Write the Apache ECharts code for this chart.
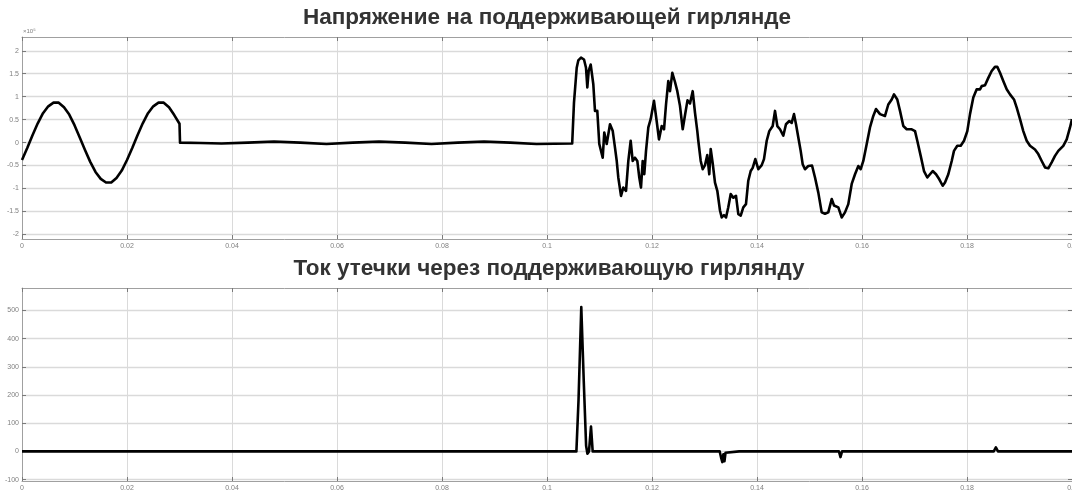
<!DOCTYPE html>
<html><head><meta charset="utf-8">
<script src="https://cdn.jsdelivr.net/npm/echarts@6/dist/echarts.min.js"></script>
<style>html,body{margin:0;padding:0;background:#fff}#c{width:1072px;height:491px}</style>
</head><body><div id="c"></div>
<script>
// ---- titles ----
const titleTop = 'Напряжение на поддерживающей гирлянде';
const titleBottom = 'Ток утечки через поддерживающую гирлянду';
const voltExponent = '×10⁵';

// ---- tick values ----
const timeTicks = [0, 0.02, 0.04, 0.06, 0.08, 0.1, 0.12, 0.14, 0.16, 0.18, 0.2];
const voltTicks = [-2, -1.5, -1, -0.5, 0, 0.5, 1, 1.5, 2];
const currTicks = [-100, 0, 100, 200, 300, 400, 500];

// ---- voltage (×1e5), [time s, value] ----
const voltSine = [
  [0.000,-0.38],[0.001,-0.12],[0.002,0.16],[0.003,0.42],[0.004,0.64],[0.005,0.79],
  [0.006,0.87],[0.007,0.87],[0.008,0.77],[0.009,0.61],[0.010,0.38],[0.011,0.11],
  [0.012,-0.16],[0.013,-0.42],[0.014,-0.64],[0.015,-0.79],[0.016,-0.87],[0.017,-0.87],
  [0.018,-0.77],[0.019,-0.61],[0.020,-0.38],[0.021,-0.12],[0.022,0.16],[0.023,0.42],
  [0.024,0.64],[0.025,0.79],[0.026,0.87],[0.027,0.87],[0.028,0.77],[0.029,0.60],[0.030,0.41]
];
const voltQuiet = [
  [0.0301,0.0],[0.034,-0.01],[0.038,-0.02],[0.043,0.0],[0.048,0.02],[0.053,0.0],
  [0.058,-0.03],[0.063,0.0],[0.068,0.02],[0.073,0.0],[0.078,-0.03],[0.083,0.0],
  [0.088,0.02],[0.093,0.0],[0.098,-0.03],[0.1048,-0.02]
];
const voltFault = [
  [0.10490,-0.02],[0.10514,0.87],[0.10566,1.63],[0.10596,1.79],[0.10648,1.85],[0.10705,1.81],
  [0.10743,1.63],[0.10768,1.20],[0.10794,1.56],[0.10832,1.70],[0.10857,1.68],[0.10882,1.27],
  [0.10914,0.69],[0.10958,0.69],[0.10996,-0.03],[0.11061,-0.33],[0.11091,0.22],[0.11137,-0.03],
  [0.11200,0.40],[0.11251,0.26],[0.11295,-0.11],[0.11328,-0.40],[0.11358,-0.76],[0.11410,-1.16],
  [0.11453,-0.98],[0.11505,-1.05],[0.11549,-0.40],[0.11594,0.04],[0.11632,-0.40],[0.11676,-0.33],
  [0.11720,-0.40],[0.11758,-0.76],[0.11790,-0.98],[0.11823,-0.40],[0.11853,-0.69],[0.11886,-0.18],
  [0.11930,0.33],[0.11975,0.51],[0.12038,0.91],[0.12090,0.46],[0.12133,0.07],[0.12185,0.36],
  [0.12229,0.29],[0.12267,0.83],[0.12310,1.34],[0.12343,1.12],[0.12387,1.52],[0.12438,1.32],
  [0.12482,1.12],[0.12533,0.80],[0.12585,0.29],[0.12629,0.60],[0.12676,0.92],[0.12724,0.85],
  [0.12775,1.12],[0.12819,0.65],[0.12863,0.25],[0.12882,0.04],[0.12928,-0.40],[0.12966,-0.58],
  [0.13010,-0.49],[0.13053,-0.27],[0.13091,-0.69],[0.13118,-0.14],[0.13156,-0.45],[0.13200,-0.87],
  [0.13244,-1.05],[0.13295,-1.48],[0.13328,-1.63],[0.13371,-1.58],[0.13410,-1.63],[0.13453,-1.41],
  [0.13499,-1.12],[0.13549,-1.20],[0.13600,-1.16],[0.13644,-1.56],[0.13690,-1.59],[0.13739,-1.41],
  [0.13790,-1.34],[0.13834,-0.83],[0.13880,-0.62],[0.13918,-0.55],[0.13968,-0.36],[0.14025,-0.58],
  [0.14090,-0.49],[0.14133,-0.36],[0.14185,0.04],[0.14234,0.25],[0.14299,0.36],[0.14343,0.69],
  [0.14387,0.36],[0.14438,0.29],[0.14501,0.15],[0.14552,0.40],[0.14615,0.47],[0.14661,0.43],
  [0.14705,0.62],[0.14743,0.40],[0.14787,0.11],[0.14832,-0.18],[0.14870,-0.47],[0.14914,-0.58],
  [0.14977,-0.51],[0.15048,-0.50],[0.15105,-0.76],[0.15168,-1.09],[0.15232,-1.52],[0.15295,-1.55],
  [0.15358,-1.52],[0.15423,-1.23],[0.15467,-1.37],[0.15549,-1.41],[0.15613,-1.63],[0.15676,-1.52],
  [0.15739,-1.34],[0.15804,-0.90],[0.15867,-0.69],[0.15930,-0.51],[0.15975,-0.58],[0.16025,-0.40],
  [0.16090,-0.03],[0.16152,0.33],[0.16215,0.58],[0.16267,0.73],[0.16343,0.62],[0.16438,0.58],
  [0.16501,0.83],[0.16566,0.94],[0.16610,1.05],[0.16672,0.94],[0.16724,0.69],[0.16787,0.36],
  [0.16851,0.29],[0.16947,0.29],[0.17010,0.25],[0.17053,0.04],[0.17118,-0.29],[0.17181,-0.62],
  [0.17244,-0.76],[0.17295,-0.69],[0.17347,-0.62],[0.17410,-0.69],[0.17472,-0.80],[0.17537,-0.94],
  [0.17581,-0.87],[0.17644,-0.69],[0.17709,-0.40],[0.17752,-0.18],[0.17815,-0.07],[0.17880,-0.07],
  [0.17943,0.04],[0.18006,0.25],[0.18057,0.62],[0.18120,0.98],[0.18185,1.16],[0.18248,1.16],
  [0.18280,1.23],[0.18343,1.25],[0.18406,1.41],[0.18470,1.56],[0.18533,1.65],[0.18577,1.65],
  [0.18629,1.52],[0.18691,1.34],[0.18756,1.16],[0.18819,1.05],[0.18895,0.94],[0.18947,0.76],
  [0.19010,0.51],[0.19072,0.25],[0.19137,0.04],[0.19200,-0.07],[0.19295,-0.15],[0.19358,-0.25],
  [0.19423,-0.40],[0.19486,-0.54],[0.19549,-0.56],[0.19613,-0.43],[0.19676,-0.29],[0.19739,-0.18],
  [0.19834,-0.07],[0.19899,0.07],[0.19962,0.33],[0.20000,0.51]
];

// ---- leakage current (A), [time s, value] ----
const currentPulse = [
  [0,0],[0.1056,0],[0.1060,180],[0.10653,512],[0.1070,250],[0.10745,20],[0.1077,-8],
  [0.1080,0],[0.10838,88],[0.1087,0],[0.1329,0],[0.1332,-25],[0.1334,-38],[0.1336,-10],
  [0.1338,-35],[0.1340,-5],[0.1342,0],[0.1366,0],[0.1368,-6],[0.1370,0],[0.1556,0],
  [0.1559,-20],[0.1562,0],[0.1851,0],[0.1855,14],[0.1859,0],[0.2,0]
];

const voltData = voltSine.concat(voltQuiet, voltFault);

const FONT = '"Liberation Sans", Arial, sans-serif';
const lblStyle = { fontFamily: FONT, fontSize: 7, color: '#808080' };
const tickStyle = { color: '#7a7a7a', width: 1 };
const gridColor = '#dadada';

function xAxisPair(gi) {
  return [
    { type: 'value', gridIndex: gi, min: 0, max: 0.2, interval: 0.02, position: 'bottom',
      axisLine: { show: true, onZero: false, lineStyle: { color: '#a0a0a0' } },
      axisTick: { show: true, inside: true, length: 4, lineStyle: tickStyle },
      axisLabel: Object.assign({ margin: 4, showMaxLabel: true, showMinLabel: true,
        formatter: v => String(+v.toFixed(2)) }, lblStyle),
      splitLine: { show: true, lineStyle: { color: gridColor, width: 1 } } },
    { type: 'value', gridIndex: gi, min: 0, max: 0.2, interval: 0.02, position: 'top',
      axisLine: { show: true, onZero: false, lineStyle: { color: '#a0a0a0' } },
      axisTick: { show: true, inside: true, length: 4, lineStyle: tickStyle },
      axisLabel: { show: false }, splitLine: { show: false } }
  ];
}
function yAxisPair(gi, min, max, ticks) {
  return [
    { type: 'value', gridIndex: gi, min: min, max: max, position: 'left',
      axisLine: { show: true, onZero: false, lineStyle: { color: '#a0a0a0' } },
      axisTick: { show: true, inside: true, length: 4, customValues: ticks, lineStyle: tickStyle },
      axisLabel: Object.assign({ margin: 3, customValues: ticks }, lblStyle),
      splitLine: { show: true, lineStyle: { color: gridColor, width: 1.4 } } },
    { type: 'value', gridIndex: gi, min: min, max: max, position: 'right',
      axisLine: { show: true, onZero: false, lineStyle: { color: '#a0a0a0' } },
      axisTick: { show: true, inside: true, length: 4, customValues: ticks, lineStyle: tickStyle },
      axisLabel: { show: false, customValues: ticks }, splitLine: { show: false } }
  ];
}

const chart = echarts.init(document.getElementById('c'), null, { renderer: 'canvas' });
chart.setOption({
  animation: false,
  backgroundColor: '#ffffff',
  grid: [
    { left: 22, right: 0, top: 37, height: 202, outerBoundsMode: 'none', containLabel: false },
    { left: 22, right: 0, top: 288, height: 193, outerBoundsMode: 'none', containLabel: false }
  ],
  xAxis: xAxisPair(0).concat(xAxisPair(1)),
  yAxis: yAxisPair(0, -2.1, 2.3, voltTicks).concat(yAxisPair(1, -105, 580, currTicks)),
  graphic: [
    { type: 'text', x: 547, y: 6, style: { text: titleTop,
      font: 'bold 22.5px ' + FONT, fill: '#333333', textAlign: 'center', textVerticalAlign: 'top' } },
    { type: 'text', x: 549, y: 257, style: { text: titleBottom,
      font: 'bold 22.5px ' + FONT, fill: '#333333', textAlign: 'center', textVerticalAlign: 'top' } },
    { type: 'text', x: 23, y: 28, style: { text: voltExponent,
      font: '6px ' + FONT, fill: '#808080' } }
  ],
  series: [
    { type: 'line', xAxisIndex: 0, yAxisIndex: 0, data: voltData, showSymbol: false,
      lineStyle: { color: '#000000', width: 2.6, join: 'round' }, clip: true },
    { type: 'line', xAxisIndex: 2, yAxisIndex: 2, data: currentPulse, showSymbol: false,
      lineStyle: { color: '#000000', width: 2.6, join: 'round' }, clip: true }
  ]
});
</script>
</body></html>
